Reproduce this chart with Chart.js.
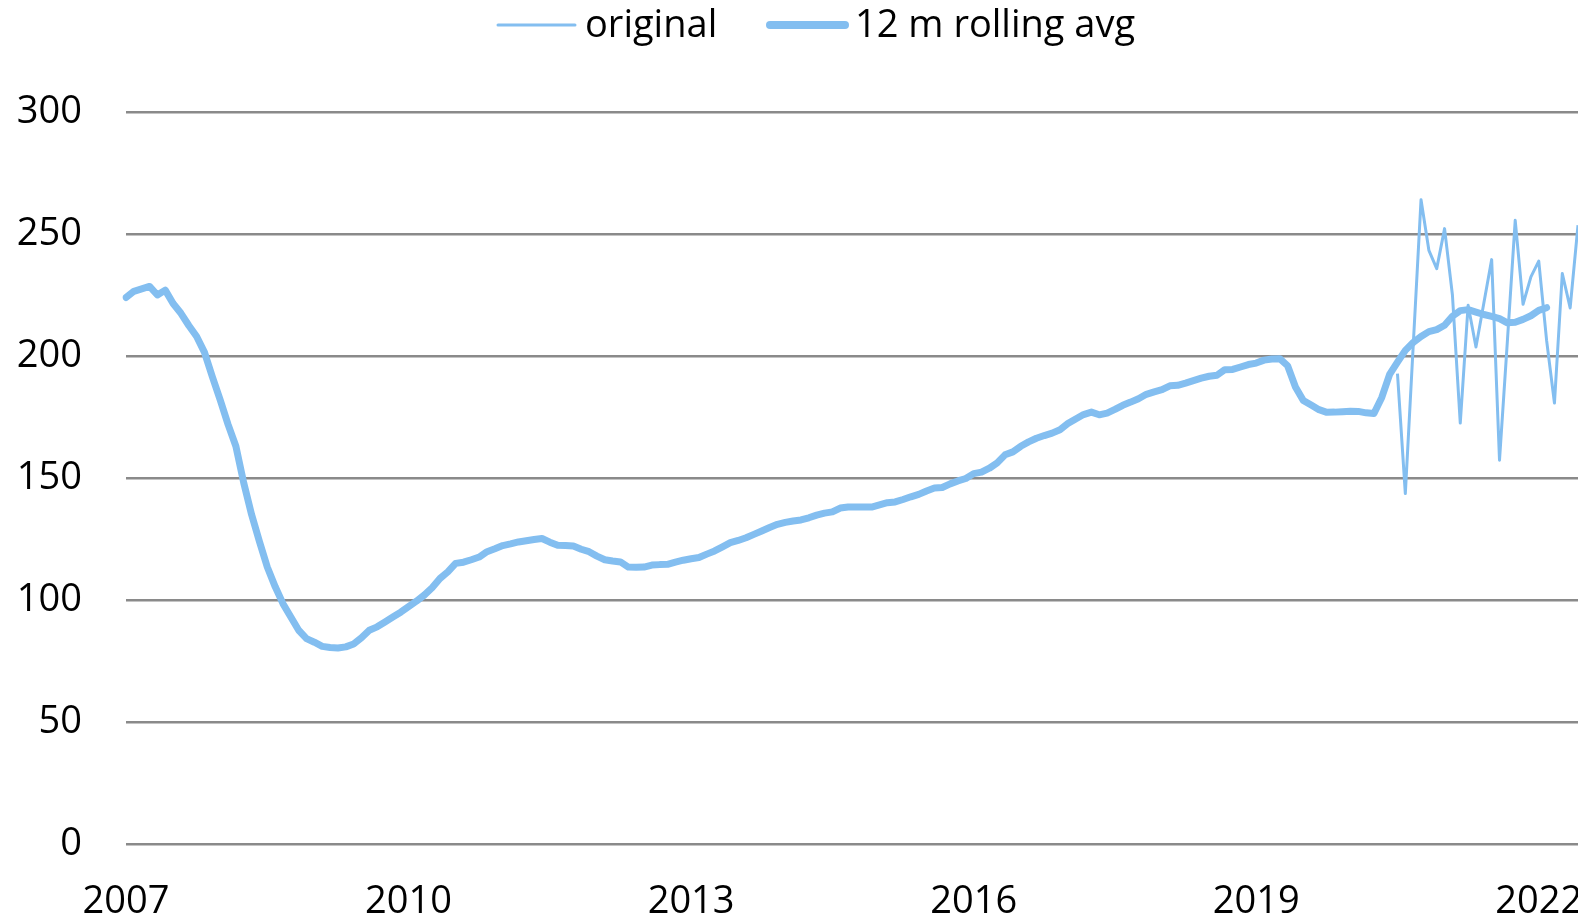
<!DOCTYPE html>
<html>
<head>
<meta charset="utf-8">
<script src="https://cdn.jsdelivr.net/npm/chart.js@4.4.0/dist/chart.umd.min.js"></script>
<style>
  html, body { margin: 0; padding: 0; background: #fff; }
  #wrap { width: 1578px; height: 919px; }
</style>
</head>
<body>
<div id="wrap"><canvas id="grafico"></canvas></div>
<script>
// x axis: monthly, Jan 2007 .. Jun 2022, labelled every 3 years
const firstYear = 2007;
const monthCount = 186;
const tickYears = ['2007', '2010', '2013', '2016', '2019', '2022'];

// 12 m rolling average, from Jan 2007
const rolling = [224, 226.5, 227.5, 228.5, 225, 227, 221.5, 217.5, 212.5, 208,
  201.5, 191.5, 182, 172, 163, 148, 135, 124, 113.5, 105.5,
  98.5, 93, 87.6, 84.2, 82.7, 81, 80.5, 80.3, 80.8, 82,
  84.5, 87.6, 89, 91, 93, 95, 97.3, 99.5, 102, 105,
  108.8, 111.5, 115, 115.5, 116.5, 117.6, 119.8, 121, 122.3, 123,
  123.8, 124.3, 124.8, 125.2, 123.7, 122.4, 122.3, 122.1, 120.8, 119.8,
  118, 116.5, 116, 115.6, 113.5, 113.4, 113.5, 114.3, 114.5, 114.6,
  115.5, 116.3, 116.9, 117.4, 118.8, 120.1, 121.8, 123.5, 124.4, 125.5,
  126.9, 128.3, 129.7, 131, 131.8, 132.4, 132.8, 133.7, 134.8, 135.6,
  136.1, 137.7, 138.1, 138.1, 138.1, 138.1, 139, 139.9, 140.2, 141.2,
  142.3, 143.3, 144.7, 145.9, 146.1, 147.6, 148.8, 149.8, 151.8, 152.4,
  154, 156.2, 159.5, 160.7, 163, 164.8, 166.3, 167.4, 168.4, 169.8,
  172.3, 174.2, 176, 177, 175.9, 176.6, 178.1, 179.8, 181.1, 182.5,
  184.3, 185.3, 186.2, 187.8, 188, 188.9, 189.9, 190.9, 191.7, 192.1,
  194.4, 194.5, 195.5, 196.5, 197.1, 198.3, 198.8, 198.9, 196, 187.3,
  181.8, 179.9, 178, 176.9, 177, 177.2, 177.4, 177.3, 176.7, 176.4,
  183, 192.5, 197.5, 202.3, 205.5, 208, 210, 210.8, 212.6, 216.3,
  218.6, 219, 218, 217, 216.2, 215.3, 213.6, 213.8, 215, 216.5,
  218.7, 219.8];

// original series, only shown from Jul 2020
const originalStart = 162;
const original = [192.8, 143.6, 204, 264, 243.3, 235.8, 252.2, 225, 172.5, 220.8,
  203.7, 221.6, 239.5, 157.3, 206, 255.6, 221.2, 232.4, 238.9, 206.4,
  180.7, 233.8, 219.7, 253.6];

const blu = '#83BEF0';
const font = { family: '"Open Sans", sans-serif', size: 38 };

let mesi = [];
for (let i = 0; i < monthCount; i++) {
  let y = firstYear + Math.floor(i / 12);
  let m = (i % 12) + 1;
  mesi.push(y + '-' + (m < 10 ? '0' + m : m));
}

let originalFull = [];
for (let i = 0; i < monthCount; i++) {
  originalFull.push(i >= originalStart ? original[i - originalStart] : null);
}

// legend drawn by hand (line sample + text)
const legenda = {
  id: 'legenda',
  afterDraw(chart) {
    const c = chart.ctx;
    c.save();
    c.strokeStyle = blu;
    c.lineCap = 'round';
    c.lineWidth = 3;
    c.beginPath(); c.moveTo(498, 25); c.lineTo(575, 25); c.stroke();
    c.lineWidth = 8;
    c.beginPath(); c.moveTo(770, 25); c.lineTo(845, 25); c.stroke();
    c.fillStyle = '#000';
    c.font = font.size + 'px ' + font.family;
    c.textBaseline = 'alphabetic';
    c.fillText(chart.data.datasets[0].label, 585, 37);
    c.fillText(chart.data.datasets[1].label, 855, 37);
    c.restore();
  }
};

let g = document.getElementById('grafico');

new Chart(g, {
  type: 'line',
  data: {
    labels: mesi,
    datasets: [{
      label: 'original',
      data: originalFull,
      borderColor: blu,
      borderWidth: 3,
      pointRadius: 0,
      tension: 0,
      borderJoinStyle: 'round'
    }, {
      label: '12 m rolling avg',
      data: rolling,
      borderColor: blu,
      borderWidth: 7,
      pointRadius: 0,
      tension: 0,
      borderCapStyle: 'round',
      borderJoinStyle: 'round'
    }]
  },
  options: {
    responsive: true,
    maintainAspectRatio: false,
    animation: false,
    layout: { autoPadding: false, padding: { top: 112, left: 0, right: 0, bottom: 0 } },
    plugins: {
      legend: { display: false },
      tooltip: { enabled: false }
    },
    scales: {
      x: {
        grid: { display: false, drawTicks: false },
        border: { display: false },
        ticks: {
          autoSkip: false,
          maxRotation: 0,
          padding: 35,
          color: '#000',
          font: font,
          callback: function(val) {
            let l = this.getLabelForValue(val);
            let parts = l.split('-');
            if (parts[1] === '01' && tickYears.includes(parts[0])) return parts[0];
            return '';
          }
        },
        afterFit: function(scale) {
          scale.height = 75;
          scale.paddingLeft = 0;
          scale.paddingRight = 0;
        }
      },
      y: {
        min: 0,
        max: 300,
        grid: { color: '#8A8A8A', lineWidth: 2.5, drawTicks: false },
        border: { display: false },
        ticks: { stepSize: 50, padding: 44, color: '#000', font: font },
        afterFit: function(scale) { scale.width = 126; }
      }
    }
  },
  plugins: [legenda]
});
</script>
</body>
</html>
